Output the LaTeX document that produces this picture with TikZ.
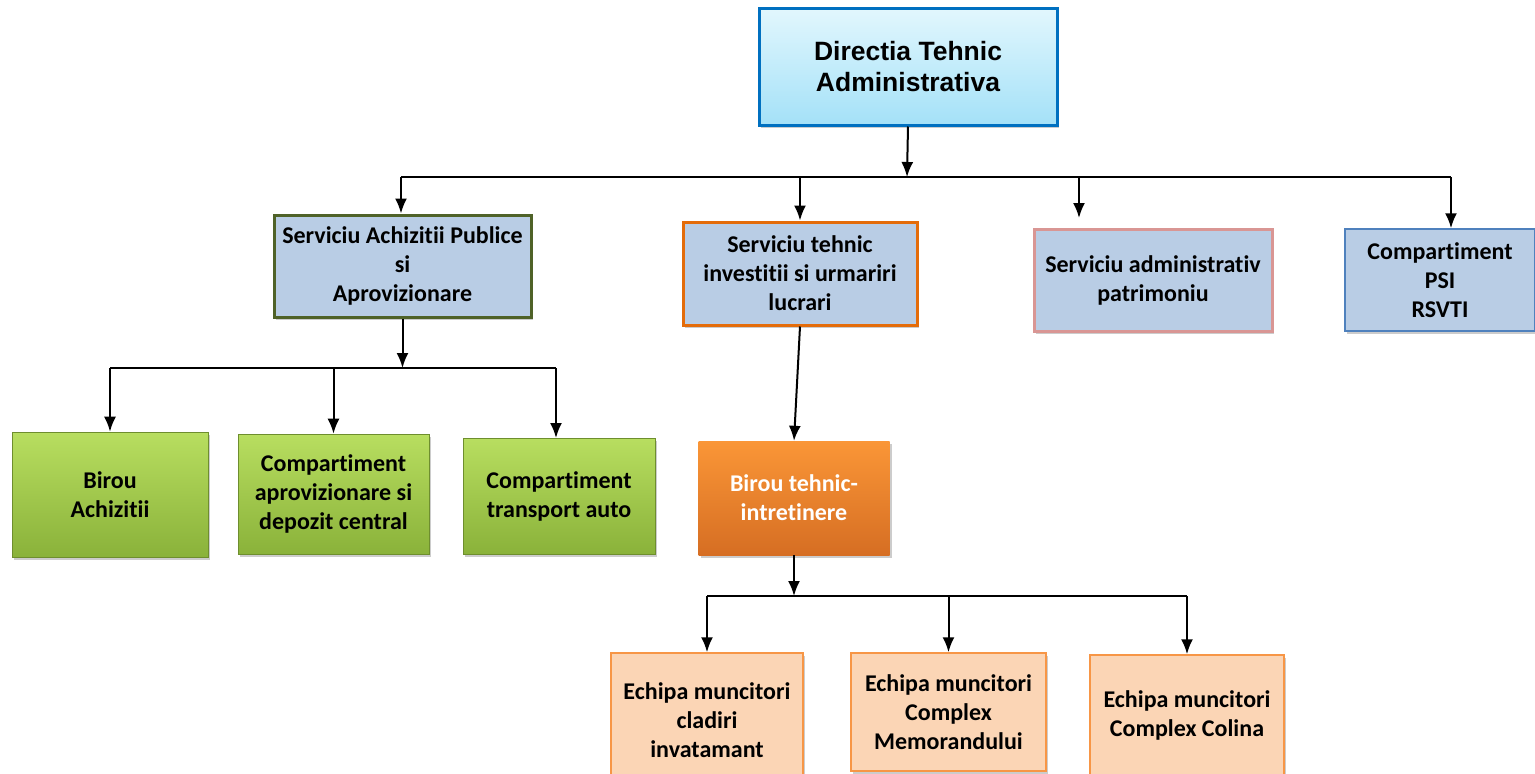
\documentclass[tikz,border=0pt]{standalone}
\usepackage{fontspec}
\setmainfont{Carlito}[Ligatures=NoCommon]
\newfontfamily\arialfont{Liberation Sans}
\usepackage{xcolor}
\usetikzlibrary{arrows.meta}
\usetikzlibrary{shadows}

\definecolor{boxblue}{RGB}{185,205,229}
\definecolor{topline}{RGB}{0,112,192}
\definecolor{toptop}{RGB}{226,247,253}
\definecolor{topbot}{RGB}{164,225,248}
\definecolor{olive}{RGB}{79,98,40}
\definecolor{darkorange}{RGB}{228,108,10}
\definecolor{rosy}{RGB}{217,150,148}
\definecolor{steel}{RGB}{79,129,189}
\definecolor{greentop}{RGB}{184,222,96}
\definecolor{greenbot}{RGB}{138,178,58}
\definecolor{orangetop}{RGB}{250,150,55}
\definecolor{orangebot}{RGB}{214,110,35}
\definecolor{peach}{RGB}{251,213,181}
\definecolor{peachline}{RGB}{247,150,70}

\tikzset{
    unit/.style = {rectangle, align=center, font=\bfseries\fontsize{24}{29}\selectfont,
        inner sep=2pt, drop shadow={opacity=0.4, shadow xshift=2pt, shadow yshift=-3pt}},
    service/.style = {unit, fill=boxblue, line width=3pt},
    office/.style = {unit, draw=greenbot!80!black, line width=0.6pt,
        top color=greentop, bottom color=greenbot},
    team/.style = {unit, fill=peach, draw=peachline, line width=1.5pt},
    arr/.style = {-{Latex[length=15pt, width=12pt]}, line width=2pt},
    bus/.style = {line width=2pt}
}

\begin{document}
\begin{tikzpicture}[x=1pt, y=-1pt]
        \useasboundingbox (0, 0) rectangle (1535, 774);

        % top level
        \node[unit, draw=topline, line width=3pt, top color=toptop, bottom color=topbot,
            font=\arialfont\bfseries\fontsize{26.5}{31}\selectfont,
            minimum width=298pt, minimum height=117pt] (dta) at (908, 66.5)
            {Directia Tehnic\\ Administrativa};

        % services
        \node[service, draw=olive, minimum width=257pt, minimum height=102pt] (sap) at (402.5, 266)
            {Serviciu Achizitii Publice\\ si\\ Aprovizionare};
        \node[service, draw=darkorange, minimum width=234pt, minimum height=103pt] (sti) at (800, 273.5)
            {Serviciu tehnic\\ investitii si urmariri\\ lucrari};
        \node[service, draw=rosy, minimum width=238pt, minimum height=102pt] (sap2) at (1153, 280)
            {Serviciu administrativ\\ patrimoniu};
        \node[service, draw=steel, line width=1.5pt, minimum width=190pt, minimum height=102pt] (psi) at (1440, 280)
            {Compartiment\\ PSI\\ RSVTI};

        % green offices
        \node[office, minimum width=196pt, minimum height=125pt] (ba) at (110, 494.5)
            {Birou\\ Achizitii};
        \node[office, minimum width=191pt, minimum height=120pt] (cad) at (333.5, 494)
            {Compartiment\\ aprovizionare si\\ depozit central};
        \node[office, minimum width=192pt, minimum height=116pt] (cta) at (559, 496)
            {Compartiment\\ transport auto};

        % orange office
        \node[unit, top color=orangetop, bottom color=orangebot, text=white,
            minimum width=191pt, minimum height=114pt] (bti) at (794, 498)
            {Birou tehnic-\\ intretinere};

        % teams
        \node[team, minimum width=192pt, minimum height=134pt] (eci) at (707, 720)
            {Echipa muncitori\\ cladiri\\ invatamant};
        \node[team, minimum width=195pt, minimum height=118pt] (ecm) at (948.5, 712)
            {Echipa muncitori\\ Complex\\ Memorandului};
        \node[team, minimum width=194pt, minimum height=120pt] (ecc) at (1187, 715)
            {Echipa muncitori\\ Complex Colina};

        % first bus
        \coordinate (b1) at (907, 177);
        \coordinate (b1l) at (401, 177);
        \coordinate (b1r) at (1451, 177);
        \draw[arr] (dta.south) -- (b1);
        \draw[bus] (b1l) -- (b1r);
        \draw[arr] (b1l) -- (b1l |- sap.north);
        \draw[arr] (sti.north |- b1) -- (sti.north);
        \draw[arr] (1079, 177) -- (1079, 218);
        \draw[arr] (b1r) -- (b1r |- psi.north);

        % second bus
        \coordinate (b2) at (402.5, 368);
        \draw[arr] (sap.south) -- (b2);
        \draw[bus] (ba.north |- b2) -- (556, 368);
        \draw[arr] (ba.north |- b2) -- (ba.north);
        \draw[arr] (cad.north |- b2) -- (cad.north);
        \draw[arr] (556, 368) -- (556, 438);

        % orange branch
        \draw[arr] (sti.south) -- (bti.north);

        % third bus
        \coordinate (b3) at (794, 596);
        \draw[arr] (bti.south) -- (b3);
        \draw[bus] (eci.north |- b3) -- (ecc.north |- b3);
        \draw[arr] (eci.north |- b3) -- (eci.north);
        \draw[arr] (ecm.north |- b3) -- (ecm.north);
        \draw[arr] (ecc.north |- b3) -- (ecc.north);
\end{tikzpicture}
\end{document}
